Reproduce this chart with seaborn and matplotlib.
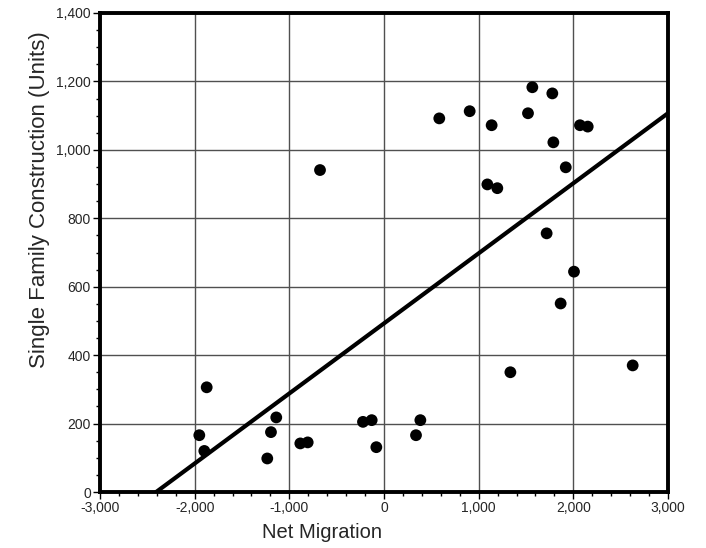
import numpy as np
import pandas as pd
import matplotlib
matplotlib.use("Agg")
import matplotlib.pyplot as plt
import seaborn as sns
from matplotlib.ticker import MultipleLocator, FuncFormatter

net_migration = [-1951, -1898, -1873, -1233, -1194, -1138, -884, -806, -676,
                 -222, -130, -81, 338, 384, 584, 905, 1092, 1137, 1197, 1335,
                 1521, 1567, 1718, 1778, 1789, 1866, 1920, 2007, 2070, 2152, 2627]
single_family = [166, 120, 306, 98, 175, 218, 142, 145, 941,
                 205, 210, 131, 166, 210, 1092, 1113, 899, 1072, 888, 350,
                 1107, 1183, 756, 1165, 1022, 551, 949, 644, 1072, 1068, 370]

df = pd.DataFrame({"Net Migration": net_migration,
                   "Single Family Construction (Units)": single_family})

sns.set_style("white")
plt.rcParams["font.family"] = ["Liberation Sans", "DejaVu Sans"]

fig = plt.figure(figsize=(7.06, 5.48), dpi=100)
ax = fig.add_axes([100/706, 56/548, 568/706, 479/548])
ax.set_xlim(-3000, 3000)
ax.set_ylim(0, 1400)

sns.regplot(data=df, x="Net Migration", y="Single Family Construction (Units)",
            ax=ax, ci=None, truncate=False,
            scatter_kws=dict(s=72, color="black", edgecolor="none", alpha=1, zorder=4),
            line_kws=dict(color="black", lw=3.0, zorder=3))

ax.set_xlim(-3000, 3000)
ax.set_ylim(0, 1400)
ax.xaxis.set_major_locator(MultipleLocator(1000))
ax.xaxis.set_minor_locator(MultipleLocator(200))
ax.yaxis.set_major_locator(MultipleLocator(200))
ax.yaxis.set_minor_locator(MultipleLocator(50))
fmt = FuncFormatter(lambda v, p: f"{int(v):,}")
ax.xaxis.set_major_formatter(fmt)
ax.yaxis.set_major_formatter(fmt)

ax.grid(True, which="major", color="#505050", lw=1.0, zorder=0)
ax.set_axisbelow(True)
for s in ax.spines.values():
    s.set_linewidth(2.8)
    s.set_color("black")
    s.set_zorder(5)

ax.tick_params(axis="both", which="major", direction="out", length=5, width=1,
               color="black", labelsize=10, pad=1.5, left=True, bottom=True)
ax.tick_params(axis="both", which="minor", direction="out", length=3, width=1,
               color="black", left=True, bottom=True)

ax.set_xlabel("Net Migration", fontsize=14.5)
ax.set_ylabel("Single Family Construction (Units)", fontsize=16)
ax.xaxis.set_label_coords(0.39, -0.064)
ax.yaxis.set_label_coords(-0.088, 0.61)

fig.savefig("out.png", dpi=100)
